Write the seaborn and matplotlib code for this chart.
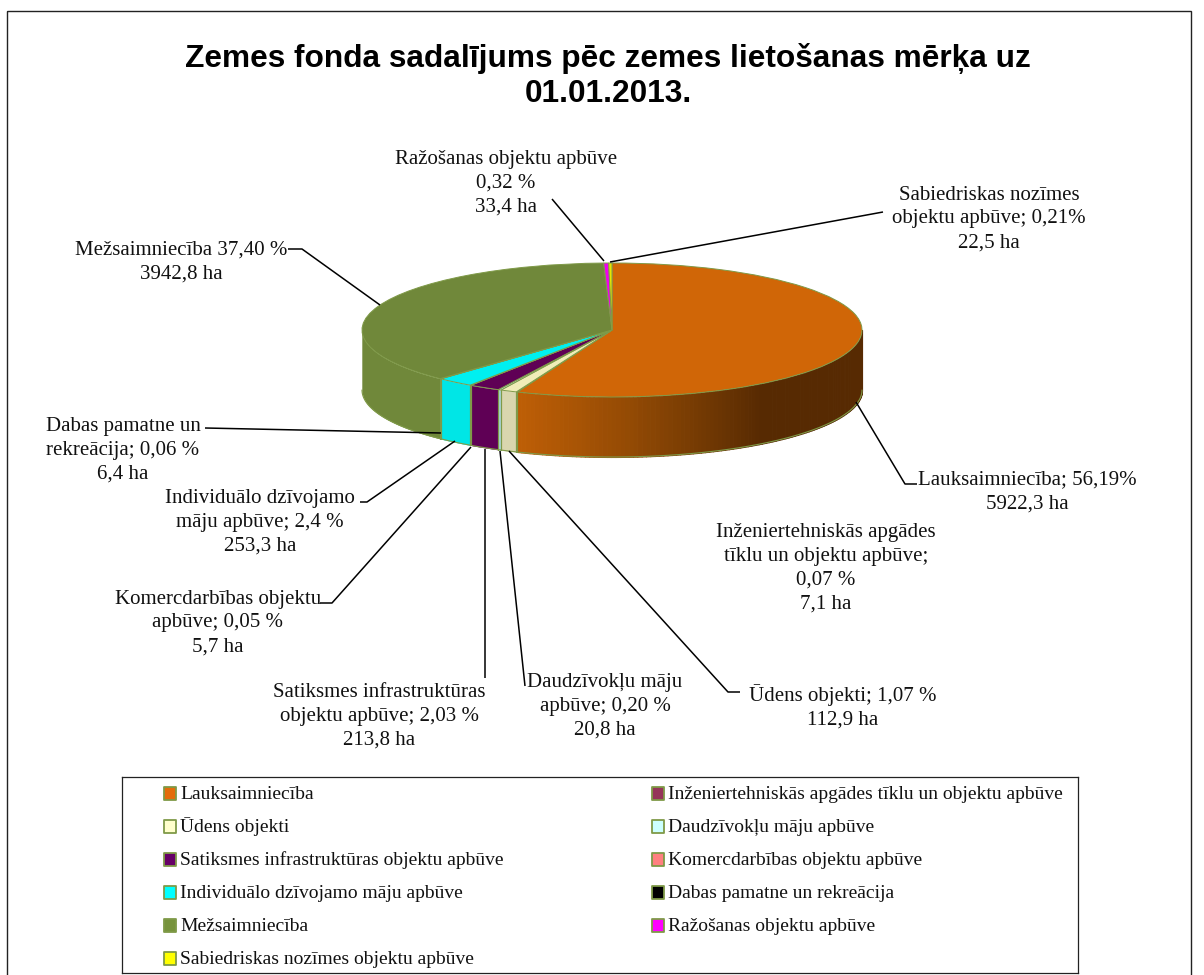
import numpy as np
import matplotlib
matplotlib.use("Agg")
import matplotlib.pyplot as plt
from matplotlib.lines import Line2D
from matplotlib.patches import Rectangle
from matplotlib.path import Path
import seaborn as sns

categories = ["Lauksaimniecība", "Inženiertehniskās apgādes tīklu un objektu apbūve",
              "Ūdens objekti", "Daudzīvokļu māju apbūve",
              "Satiksmes infrastruktūras objektu apbūve", "Komercdarbības objektu apbūve",
              "Individuālo dzīvojamo māju apbūve", "Dabas pamatne un rekreācija",
              "Mežsaimniecība", "Ražošanas objektu apbūve",
              "Sabiedriskas nozīmes objektu apbūve"]
hectares = [5922.3, 7.1, 112.9, 20.8, 213.8, 5.7, 253.3, 6.4, 3942.8, 33.4, 22.5]
label_texts = ["Lauksaimniecība; 56,19%\n5922,3 ha",
               "Inženiertehniskās apgādes\ntīklu un objektu apbūve;\n0,07 %\n7,1 ha",
               "Ūdens objekti; 1,07 %\n112,9 ha",
               "Daudzīvokļu māju\napbūve; 0,20 %\n20,8 ha",
               "Satiksmes infrastruktūras\nobjektu apbūve; 2,03 %\n213,8 ha",
               "Komercdarbības objektu\napbūve; 0,05 %\n5,7 ha",
               "Individuālo dzīvojamo\nmāju apbūve; 2,4 %\n253,3 ha",
               "Dabas pamatne un\nrekreācija; 0,06 %\n6,4 ha",
               "Mežsaimniecība 37,40 %\n3942,8 ha",
               "Ražošanas objektu apbūve\n0,32 %\n33,4 ha",
               "Sabiedriskas nozīmes\nobjektu apbūve; 0,21%\n22,5 ha"]
title = "Zemes fonda sadalījums pēc zemes lietošanas mērķa uz\n01.01.2013."

top_colors = ["#D06607", "#953558", "#F0EDB8", "#BFEDED", "#5F0055", "#E87878",
              "#00F0F0", "#000000", "#70883A", "#F000F0", "#E6E600"]
side_colors = ["#BF5F06", "#7A2C48", "#D9D6AE", "#A8D5D5", "#5F0055", "#D06C6C",
               "#00E6E6", "#000000", "#70883A", "#D000D0", "#C8C800"]
legend_colors = ["#E46C0A", "#953558", "#FFFFCC", "#CCFFFF", "#660066", "#FF8080",
                 "#00FFFF", "#000000", "#77933C", "#FF00FF", "#FFFF00"]
edge = "#7F9A48"

# pixel positions of the label centres and their leader lines
label_xy = [(1027, 492), (826, 568), (843, 707), (605, 706), (379, 716), (218, 623),
            (260, 522), (123, 450), (181, 262), (506, 183), (989, 219)]
leaders = [[(856, 402), (905, 484), (917, 484)],
           [],
           [(509, 451), (728, 692), (740, 692)],
           [(500, 451), (525, 686)],
           [(485, 449), (485, 678)],
           [(471, 447), (332, 603), (320, 603)],
           [(455, 441), (367, 502), (360, 502)],
           [(441, 433), (205, 428)],
           [(380, 305), (302, 249), (288, 249)],
           [(604, 261), (552, 199)],
           [(610, 262), (883, 212)]]

sns.set_theme(style="white")
plt.rcParams["font.family"] = ["Liberation Serif", "DejaVu Serif"]

W, H = 1204, 975
cx, cy, rx, ry, depth = 612, 330, 250, 67, 60

fig = plt.figure(figsize=(W / 100, H / 100), dpi=100)
ax = fig.add_axes([0, 0, 1, 1])

# side wall of the pie, drawn from the same shares as the top
shares = np.array(hectares) / np.sum(hectares)
ends = np.cumsum(shares) * 2 * np.pi
starts = ends - shares * 2 * np.pi
d = depth / ry
shades = sns.blend_palette([side_colors[0], "#8F4804", "#572A02"], 62)
for i, (a, b) in enumerate(zip(starts, ends)):
    a2, b2 = max(a, np.pi / 2), min(b, 3 * np.pi / 2)
    if a2 >= b2:
        continue
    n = max(int((b2 - a2) / np.radians(1)), 1)
    t = np.linspace(a2, b2, n + 1)
    x, y = np.sin(t), np.cos(t)
    if i == 0:
        # orange wall darkens towards the right
        for j in range(n):
            k = int(np.interp(x[j], [-0.38, 0.6], [0, 61]))
            ax.fill_between(x[j:j + 2], y[j:j + 2], y[j:j + 2] - d, facecolor=shades[k],
                            edgecolor=shades[k], lw=0.8, antialiased=False, zorder=1)
    else:
        ax.fill_between(x, y, y - d, color=side_colors[i], lw=0.3, zorder=1)
    ax.plot(x, y - d, color=edge, lw=0.8, zorder=2)
    if a > np.pi / 2:
        ax.plot([x[0], x[0]], [y[0], y[0] - d], color=edge, lw=0.8, zorder=2)
    if b < 3 * np.pi / 2:
        ax.plot([x[-1], x[-1]], [y[-1], y[-1] - d], color=edge, lw=0.8, zorder=2)

wedges, _ = ax.pie(hectares, startangle=90, counterclock=False, colors=top_colors,
                   wedgeprops=dict(edgecolor=edge, linewidth=0.7, zorder=3))
ax.set_aspect("auto")
ax.set_xlim(-cx / rx, (W - cx) / rx)
ax.set_ylim((cy - H) / ry, cy / ry)

# overlay in image pixels for text and leader lines
over = fig.add_axes([0, 0, 1, 1])
over.set_xlim(0, W)
over.set_ylim(H, 0)
over.axis("off")
over.patch.set_alpha(0)

over.add_patch(Rectangle((7, 11), 1184, 975, fill=False, edgecolor="#222222", lw=1.0))
over.text(608, 76, title, ha="center", va="center", family=["Liberation Sans"], fontweight="bold",
          fontsize=22.75, color="black", linespacing=1.22)

for txt, (lx, ly), pts in zip(label_texts, label_xy, leaders):
    over.text(lx, ly, txt, ha="center", va="center", multialignment="center",
              fontsize=15, color="#111111", linespacing=1.35)
    if pts:
        xs, ys = zip(*pts)
        over.plot(xs, ys, color="black", lw=1.1, solid_capstyle="butt")

# legend box, filled column by column
legend_ax = fig.add_axes([122 / W, 1 - 973 / H, (1078 - 122) / W, (973 - 777) / H])
legend_ax.set_xticks([])
legend_ax.set_yticks([])
for s in legend_ax.spines.values():
    s.set_visible(True)
    s.set_color("#222222")
    s.set_linewidth(0.9)
order = [0, 2, 4, 6, 8, 10, 1, 3, 5, 7, 9]
# square marker pushed down a little so it sits on the text's middle
swatch = Path([(-6.5, -9.2), (6.5, -9.2), (6.5, 3.8), (-6.5, 3.8), (-6.5, -9.2)], closed=True)
handles = [Line2D([], [], linestyle="none", marker=swatch, markersize=12.3,
                  markerfacecolor=legend_colors[i], markeredgecolor=edge, markeredgewidth=1.3)
           for i in order]
leg = legend_ax.legend(handles, [categories[i] for i in order], ncol=2, loc="upper left",
                       bbox_to_anchor=(0.043, 0.975), frameon=False, fontsize=14, numpoints=1,
                       handlelength=0.67, handleheight=1.35, handletextpad=0.2,
                       labelspacing=0.576, columnspacing=7.6, borderpad=0, borderaxespad=0,
                       labelcolor="#111111")

fig.savefig("out.png", dpi=100)
